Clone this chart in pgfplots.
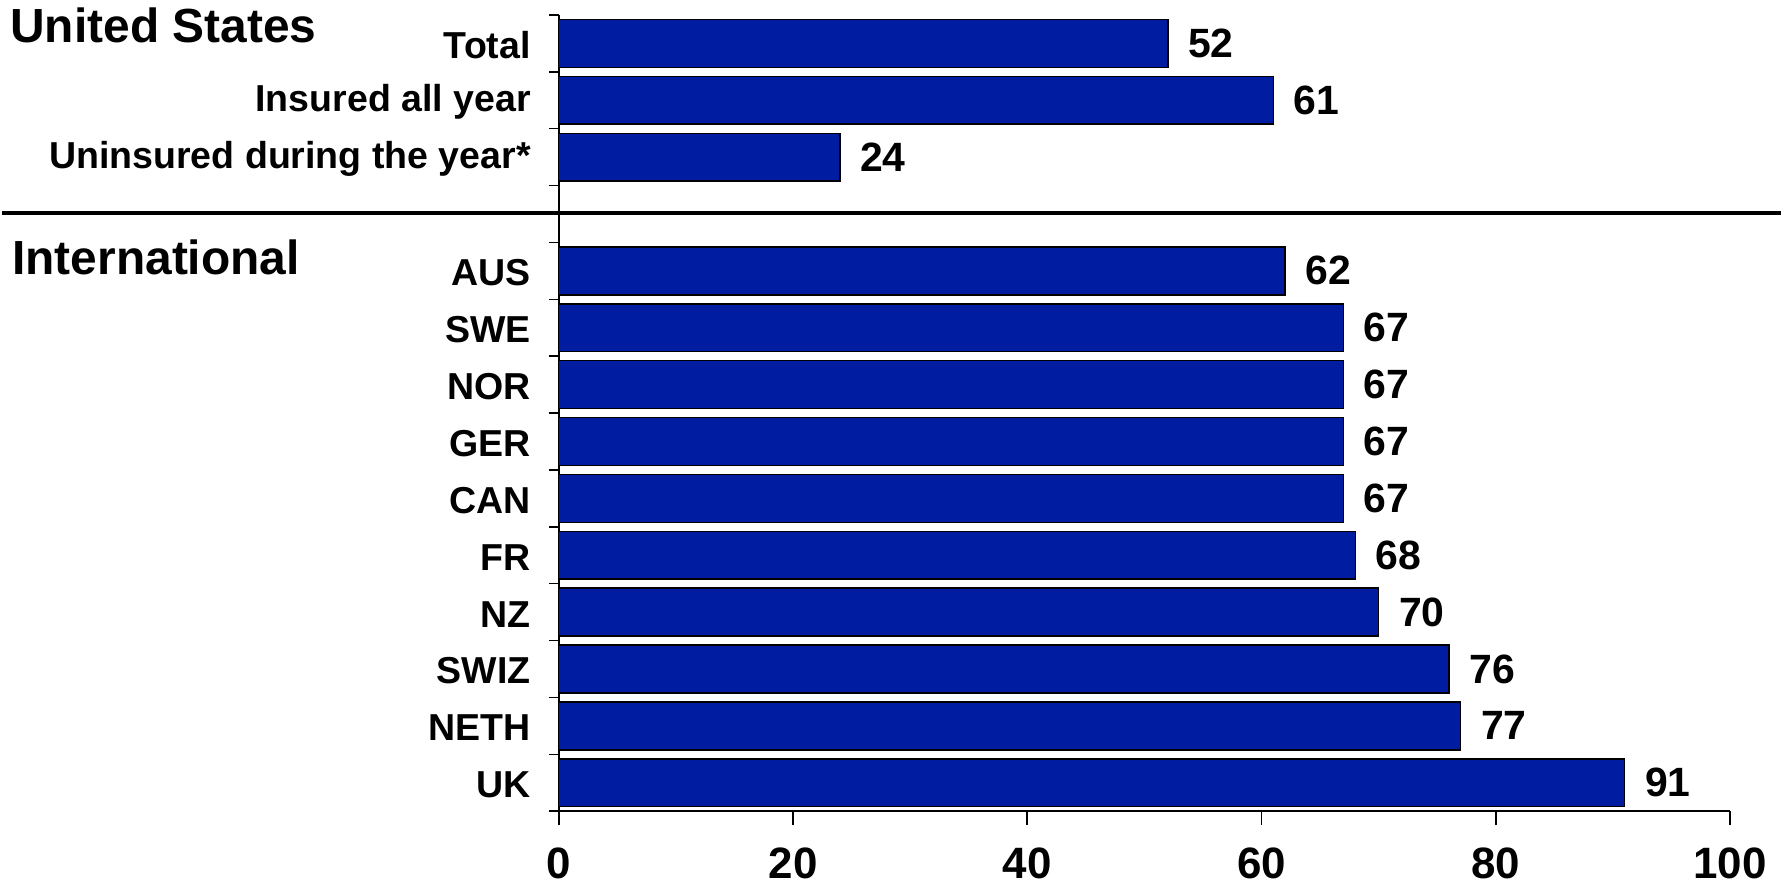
\documentclass[border=0pt]{standalone}
\usepackage{pgfplots}
\pgfplotsset{compat=1.18}
\usepackage{fontspec}
\setmainfont{Liberation Sans}
\definecolor{barblue}{RGB}{0,28,160}
\begin{document}
\begin{tikzpicture}
\path (-279pt,-36.5pt) rectangle (612.5pt,406.5pt);
\begin{axis}[
  at={(0,0)}, anchor=south west,
  scale only axis, width=587pt, height=399pt,
  xbar, bar width=0.84,
  xmin=0, xmax=100, ymin=0, ymax=14,
  axis x line*=bottom, axis y line*=left,
  axis line style={line width=0.8pt, -},
  xtick={0,20,40,60,80,100},
  ytick={0.5,1.5,2.5,3.5,4.5,5.5,6.5,7.5,8.5,9.5,11.5,12.5,13.5},
  yticklabels={UK,NETH,SWIZ,NZ,FR,CAN,GER,NOR,SWE,AUS,Uninsured during the year*,Insured all year,Total},
  minor ytick={0,1,...,14},
  tick align=outside,
  major tick length=7pt, minor tick length=5pt,
  tick style={black, line width=0.8pt},
  major y tick style={draw=none},
  /pgf/number format/assume math mode=true,
  xticklabel style={font=\bfseries\fontsize{22}{26}\selectfont, yshift=-8pt},
  yticklabel style={font=\bfseries\fontsize{18.8}{23}\selectfont, xshift=-3.5pt, yshift=-1pt},
  point meta=x,
  nodes near coords,
  nodes near coords style={font=\bfseries\fontsize{20.5}{24}\selectfont, xshift=6.5pt},
  clip=false,
]
\addplot[fill=barblue, draw=black, line width=0.75pt] coordinates {
  (91,0.5) (77,1.5) (76,2.5) (70,3.5) (68,4.5) (67,5.5) (67,6.5) (67,7.5) (67,8.5) (62,9.5)
  (24,11.5) (61,12.5) (52,13.5)
};
\end{axis}
\draw[line width=2pt] (-279pt,300pt) -- (612.5pt,300pt);
\node[anchor=base west, inner sep=0pt, font=\bfseries\fontsize{24}{28}\selectfont] at (-275pt,385pt) {United States};
\node[anchor=base west, inner sep=0pt, font=\bfseries\fontsize{24}{28}\selectfont] at (-274pt,269pt) {International};
\end{tikzpicture}
\end{document}
